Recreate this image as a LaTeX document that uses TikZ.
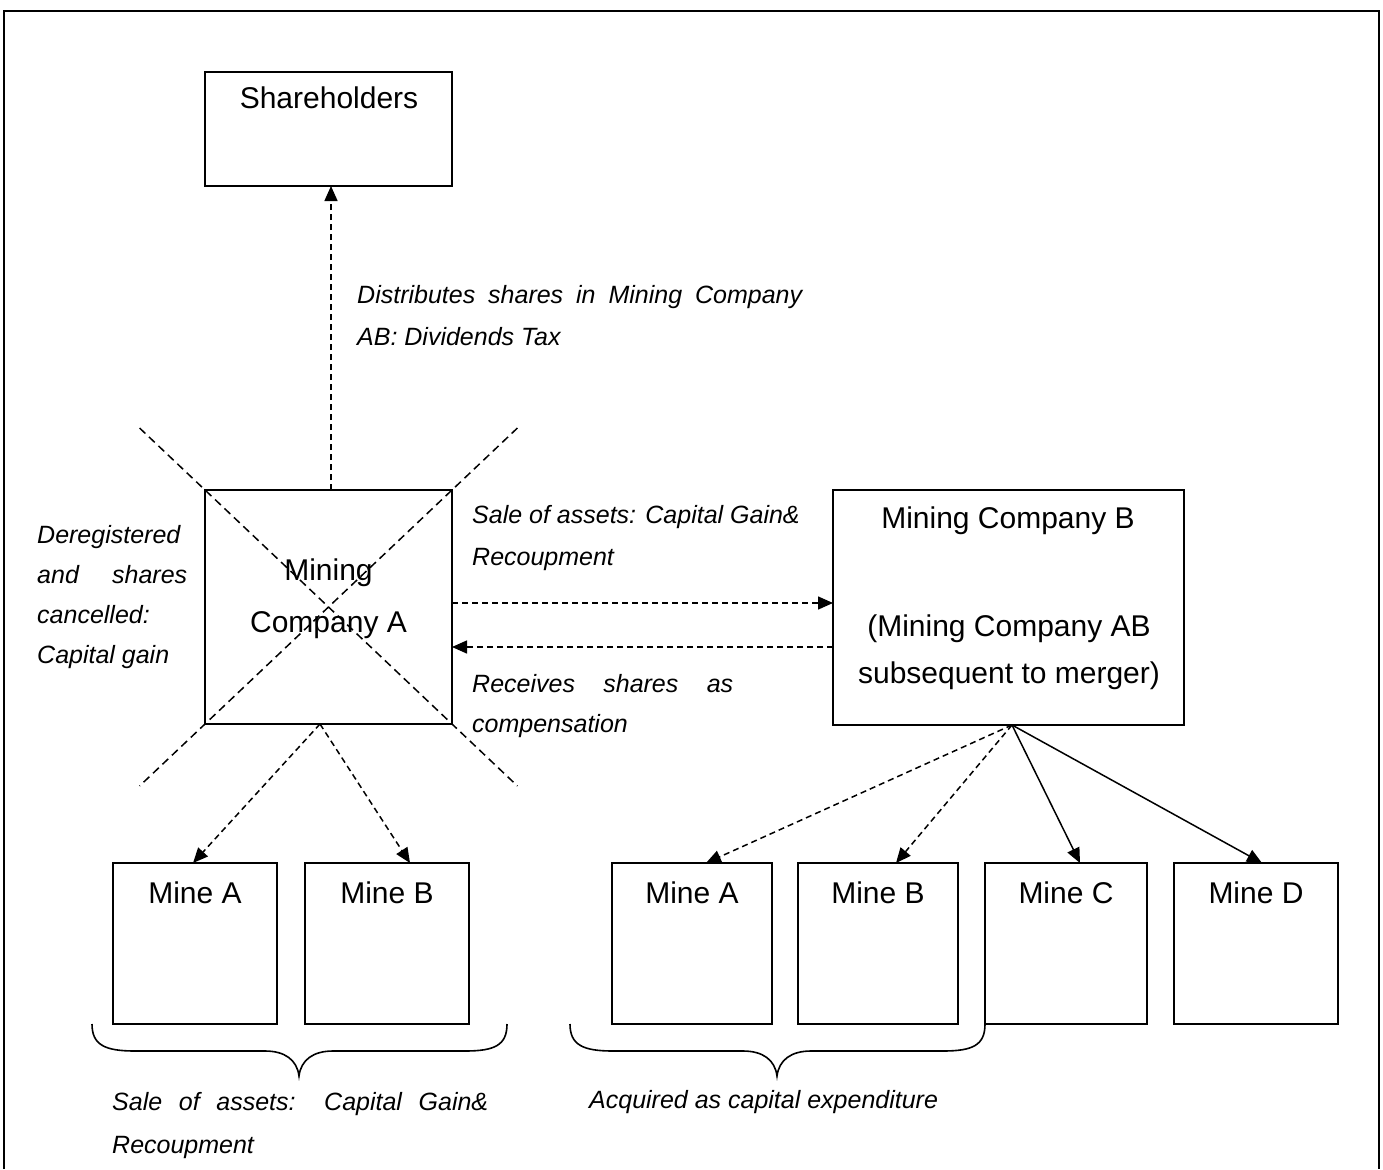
\documentclass[tikz,border=0pt]{standalone}
\usepackage{fontspec}
\setmainfont{Liberation Sans}
\usetikzlibrary{arrows.meta,calc}

\begin{document}
\begin{tikzpicture}[x=1pt,y=-1pt,
  box/.style={draw, line width=1.9pt, rectangle, inner sep=0pt, outer sep=0pt},
  lbl/.style={inner sep=0pt, anchor=base, font=\fontsize{30}{36}\selectfont},
  note/.style={inner sep=0pt, anchor=base west, font=\fontsize{25}{30}\selectfont\itshape},
  flow/.style={line width=1.5pt, -{Triangle[length=15pt,width=13pt]}},
  dashflow/.style={flow, dash pattern=on 6pt off 4pt},
  cross/.style={line width=1.5pt, dash pattern=on 8pt off 5pt},
  brace/.style={line width=1.6pt},
]
\useasboundingbox (0,0) rectangle (1383,1169);
\fill[white] (0,0) rectangle (1383,1169);

% outer frame
\draw[line width=2.4pt] (4,1169) -- (4,11) -- (1379,11) -- (1379,1169);

% boxes
\node[box, minimum width=247pt, minimum height=114pt] (sh) at (328.5,129) {};
\node[box, minimum width=247pt, minimum height=234pt] (mA) at (328.5,607) {};
\node[box, minimum width=351pt, minimum height=235pt] (mB) at (1008.5,607.5) {};

\node[box, minimum width=164pt, minimum height=161pt] (lA) at (195,943.5) {};
\node[box, minimum width=164pt, minimum height=161pt] (lB) at (387,943.5) {};

\node[box, minimum width=160pt, minimum height=161pt] (rA) at (692,943.5) {};
\node[box, minimum width=160pt, minimum height=161pt] (rB) at (878,943.5) {};
\node[box, minimum width=162pt, minimum height=161pt] (rC) at (1066,943.5) {};
\node[box, minimum width=164pt, minimum height=161pt] (rD) at (1256,943.5) {};

% box titles
\node[lbl] (shT) at (329,109) {Shareholders};
\node[lbl] (mAt1) at (328.5,580) {Mining};
\node[lbl] (mAt2) at (328.5,632) {Company A};
\node[lbl] (mBt1) at (1008,528) {Mining Company B};
\node[lbl] (mBt2) at (1009,636) {(Mining Company AB};
\node[lbl] (mBt3) at (1009,683) {subsequent to merger)};

\node[lbl] (lAt) at (195,903) {Mine A};
\node[lbl] (lBt) at (387,903) {Mine B};
\node[lbl] (rAt) at (692,903) {Mine A};
\node[lbl] (rBt) at (878,903) {Mine B};
\node[lbl] (rCt) at (1066,903) {Mine C};
\node[lbl] (rDt) at (1256,903) {Mine D};

% crossing-out of Mining Company A
\draw[cross] ($(mA.north west)!-0.265!(mA.south east)$) -- ($(mA.south east)!-0.265!(mA.north west)$);
\draw[cross] ($(mA.north east)!-0.265!(mA.south west)$) -- ($(mA.south west)!-0.265!(mA.north east)$);

% connectors
\draw[dashflow] ([xshift=2.5pt]mA.north) -- ([xshift=2.5pt]sh.south);

\coordinate (r1) at ([yshift=4pt]mA.east);
\coordinate (r2) at ([yshift=-40pt]mA.east);
\draw[dashflow] (r1) -- (r1 -| mB.west);
\draw[dashflow] (r2 -| mB.west) -- (r2);

\draw[dashflow] ([xshift=-8.5pt]mA.south) -- ([xshift=-2pt]lA.north);
\draw[dashflow] ([xshift=-8.5pt]mA.south) -- ([xshift=23pt]lB.north);

\draw[dashflow] ([xshift=3.5pt]mB.south) -- ([xshift=14pt]rA.north);
\draw[dashflow] ([xshift=3.5pt]mB.south) -- ([xshift=18pt]rB.north);
\draw[flow] ([xshift=3.5pt]mB.south) -- ([xshift=14pt]rC.north);
\draw[flow] ([xshift=3.5pt]mB.south) -- ([xshift=6pt]rD.north);

% braces under the mine groups
\draw[brace] (92,1024) .. controls (92,1045) and (105,1051) .. (135,1051) -- (265,1051)
  .. controls (285,1051) and (297,1060) .. (299,1076)
  .. controls (301,1060) and (313,1051) .. (333,1051) -- (465,1051)
  .. controls (495,1051) and (507,1045) .. (507,1024);
\draw[brace] (570,1024) .. controls (570,1045) and (583,1051) .. (613,1051) -- (743,1051)
  .. controls (763,1051) and (775,1060) .. (777,1076)
  .. controls (779,1060) and (791,1051) .. (811,1051) -- (943,1051)
  .. controls (973,1051) and (985,1045) .. (985,1024);

% annotations
\node[note] (n1a) at (357,303) {\makebox[445pt][s]{Distributes shares in Mining Company}};
\node[note] (n1b) at (357,345) {AB: Dividends Tax};

\node[note] (n2a) at (37,543) {Deregistered};
\node[note] (n2b) at (37,583) {\makebox[150pt][s]{and shares}};
\node[note] (n2c) at (37,623) {cancelled:};
\node[note] (n2d) at (37,663) {Capital gain};

\node[note] (n3a) at (472,523) {Sale of assets: Capital Gain\&};
\node[note] (n3b) at (472,565) {Recoupment};

\node[note] (n4a) at (472,692) {\makebox[261pt][s]{Receives shares as}};
\node[note] (n4b) at (472,732) {compensation};

\node[note] (n5a) at (112,1110) {\makebox[376pt][s]{Sale of assets: Capital Gain\&}};
\node[note] (n5b) at (112,1153) {Recoupment};

\node[note] (n6) at (589,1108) {Acquired as capital expenditure};
\end{tikzpicture}
\end{document}
